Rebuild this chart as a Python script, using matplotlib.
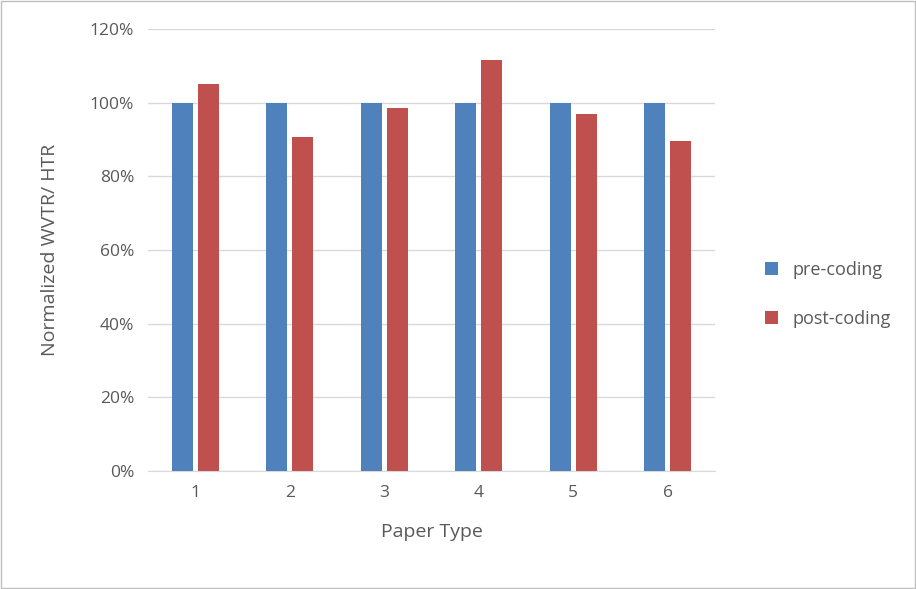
import matplotlib
matplotlib.use("Agg")
import matplotlib.pyplot as plt
import numpy as np
from matplotlib.ticker import PercentFormatter

paper_types = ["1", "2", "3", "4", "5", "6"]
pre_coding = [100, 100, 100, 100, 100, 100]
post_coding = [105.2, 90.8, 98.6, 111.6, 96.8, 89.7]

BLUE = "#4f81bd"
RED = "#c0504d"
TEXT = "#595959"

plt.rcParams["font.family"] = ["Open Sans", "DejaVu Sans"]

fig = plt.figure(figsize=(9.16, 5.89), dpi=100)
ax = fig.add_axes([148 / 916, 118 / 589, 567 / 916, 442 / 589])

x = np.arange(len(paper_types))
w = 0.22
ax.bar(x - 0.137, pre_coding, w, color=BLUE, label="pre-coding", zorder=3)
ax.bar(x + 0.137, post_coding, w, color=RED, label="post-coding", zorder=3)

ax.set_xlim(-0.5, len(paper_types) - 0.5)
ax.set_ylim(0, 120)
ax.set_yticks(range(0, 121, 20))
ax.yaxis.set_major_formatter(PercentFormatter(decimals=0))
ax.set_xticks(x)
ax.set_xticklabels(paper_types)
ax.grid(axis="y", color="#d9d9d9", lw=1, zorder=0)
for s in ["top", "right", "left"]:
    ax.spines[s].set_visible(False)
ax.spines["bottom"].set_color("#d9d9d9")
ax.tick_params(length=0, colors=TEXT, labelsize=12.5, pad=10)
ax.set_xlabel("Paper Type", color=TEXT, fontsize=14, labelpad=16)
ax.set_ylabel("Normalized WVTR/ HTR", color=TEXT, fontsize=14, labelpad=22)

ax.legend(loc="center left", bbox_to_anchor=(1.06, 0.40), frameon=False,
          fontsize=13, labelcolor=TEXT, handlelength=0.7, handleheight=0.7,
          labelspacing=1.7)

fig.patches.append(plt.Rectangle((0.001, 0.001), 0.998, 0.998, transform=fig.transFigure,
                                 fill=False, edgecolor="#bfbfbf", lw=1))
fig.savefig("out.png", dpi=100)
